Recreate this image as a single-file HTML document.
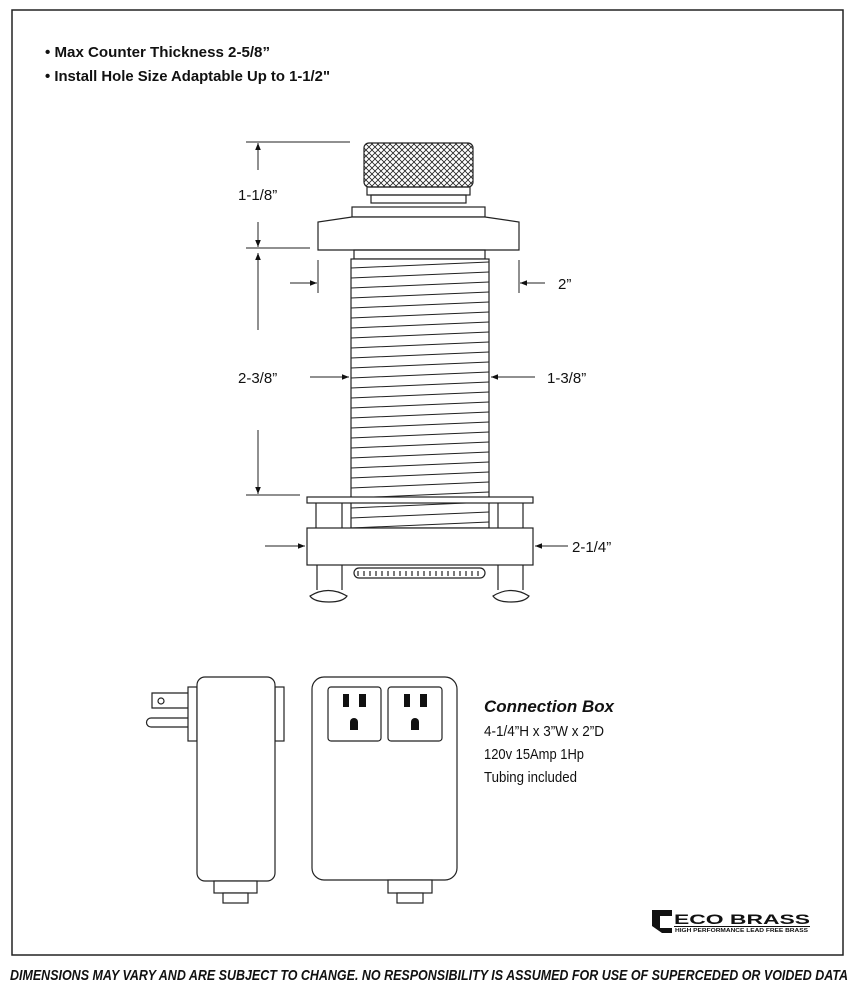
<!DOCTYPE html><html><head><style>body{margin:0;background:#fff}svg{display:block}</style></head><body>
<svg width="856" height="997" viewBox="0 0 856 997" xmlns="http://www.w3.org/2000/svg" font-family="Liberation Sans, sans-serif">
<defs>
<pattern id="kn" width="6" height="6" patternUnits="userSpaceOnUse"><path d="M0 0L6 6M6 0L0 6" stroke="#222" stroke-width="0.8"/></pattern>
<marker id="ar" viewBox="0 0 10 10" refX="10" refY="5" markerWidth="7" markerHeight="7" orient="auto"><path d="M0 1L10 5L0 9z" fill="#111"/></marker>
<clipPath id="bc"><rect x="351" y="259" width="138" height="269"/></clipPath>
</defs>
<rect x="12" y="10" width="831" height="945" fill="none" stroke="#222" stroke-width="1.5"/>
<g font-weight="bold" font-size="15" fill="#111">
<text x="45" y="57" textLength="225" lengthAdjust="spacingAndGlyphs">• Max Counter Thickness 2-5/8”</text>
<text x="45" y="81" textLength="285" lengthAdjust="spacingAndGlyphs">• Install Hole Size Adaptable Up to 1-1/2"</text>
</g>
<g fill="none" stroke="#222" stroke-width="1.2">
<rect x="364" y="143" width="109" height="44" rx="5" fill="url(#kn)"/>
<rect x="367" y="187" width="103" height="8"/>
<rect x="371" y="195" width="95" height="8"/>
<rect x="352" y="207" width="133" height="10"/>
<path d="M318 250V222L352 217H485L519 222V250Z" fill="#fff"/>
<rect x="354" y="250" width="131" height="9"/>
<rect x="351" y="259" width="138" height="269" fill="#fff"/>
<g clip-path="url(#bc)" stroke-width="1">
<path d="M351 268L489 262M351 278L489 272M351 288L489 282M351 298L489 292M351 308L489 302M351 318L489 312M351 328L489 322M351 338L489 332M351 348L489 342M351 358L489 352M351 368L489 362M351 378L489 372M351 388L489 382M351 398L489 392M351 408L489 402M351 418L489 412M351 428L489 422M351 438L489 432M351 448L489 442M351 458L489 452M351 468L489 462M351 478L489 472M351 488L489 482M351 498L489 492M351 508L489 502M351 518L489 512M351 528L489 522"/>
</g>
<rect x="307" y="497" width="226" height="6" fill="#fff"/>
<path d="M316 503V528M342 503V528M498 503V528M523 503V528"/>
<rect x="307" y="528" width="226" height="37" fill="#fff"/>
<rect x="354" y="568" width="131" height="10" rx="5"/>
<path d="M358 571v5M364 571v5M370 571v5M376 571v5M382 571v5M388 571v5M394 571v5M400 571v5M406 571v5M412 571v5M418 571v5M424 571v5M430 571v5M436 571v5M442 571v5M448 571v5M454 571v5M460 571v5M466 571v5M472 571v5M478 571v5"/>
<path d="M317 565V590M342 565V590M498 565V590M523 565V590"/>
<path d="M310 596Q328 585 347 596Q343 602 329 602Q314 602 310 596Z"/>
<path d="M493 596Q511 585 529 596Q525 602 511 602Q497 602 493 596Z"/>
</g>
<g stroke="#222" stroke-width="1" fill="none">
<path d="M246 142H350M246 248H310M246 495H300M318 260V293M519 260V293"/>
</g>
<g stroke="#222" stroke-width="1" fill="none" marker-end="url(#ar)">
<path d="M258 170V143"/><path d="M258 222V247"/><path d="M258 330V253"/><path d="M258 430V494"/>
<path d="M290 283H317"/><path d="M545 283H520"/><path d="M310 377H349"/><path d="M535 377H491"/><path d="M265 546H305"/><path d="M568 546H535"/>
</g>
<g font-size="15" fill="#111">
<text x="238" y="200">1-1/8”</text>
<text x="238" y="383">2-3/8”</text>
<text x="558" y="289">2”</text>
<text x="547" y="383">1-3/8”</text>
<text x="572" y="552">2-1/4”</text>
</g>
<g fill="#fff" stroke="#222" stroke-width="1.2">
<path d="M188 693H152V708H188M188 718H151a4.5 4.5 0 0 0 0 9H188"/>
<circle cx="161" cy="701" r="3"/>
<rect x="188" y="687" width="9" height="54"/>
<rect x="275" y="687" width="9" height="54"/>
<rect x="197" y="677" width="78" height="204" rx="8"/>
<rect x="214" y="881" width="43" height="12"/>
<rect x="223" y="893" width="25" height="10"/>
<rect x="312" y="677" width="145" height="203" rx="12"/>
<rect x="328" y="687" width="53" height="54" rx="3"/>
<rect x="388" y="687" width="54" height="54" rx="3"/>
<rect x="388" y="880" width="44" height="13"/>
<rect x="397" y="893" width="26" height="10"/>
</g>
<g fill="#111">
<rect x="343" y="694" width="6" height="13"/><rect x="359" y="694" width="7" height="13"/>
<path d="M350 730V722a4 4 0 0 1 8 0V730Z"/>
<rect x="404" y="694" width="6" height="13"/><rect x="420" y="694" width="7" height="13"/>
<path d="M411 730V722a4 4 0 0 1 8 0V730Z"/>
</g>
<g fill="#111" font-size="15">
<text x="484" y="712" font-weight="bold" font-style="italic" font-size="17" textLength="130" lengthAdjust="spacingAndGlyphs">Connection Box</text>
<text x="484" y="736" textLength="120" lengthAdjust="spacingAndGlyphs">4-1/4”H x 3”W x 2”D</text>
<text x="484" y="759" textLength="100" lengthAdjust="spacingAndGlyphs">120v 15Amp 1Hp</text>
<text x="484" y="782" textLength="93" lengthAdjust="spacingAndGlyphs">Tubing included</text>
</g>
<path d="M652 910H672V916H660V928H672V933L662 933L652 926Z" fill="#111"/>
<text x="674" y="924" font-size="14" font-weight="bold" fill="#111" textLength="136" lengthAdjust="spacingAndGlyphs">ECO BRASS</text>
<rect x="674" y="926" width="136" height="1" fill="#111"/>
<text x="675" y="932" font-size="5" font-weight="bold" fill="#111" textLength="133" lengthAdjust="spacingAndGlyphs">HIGH PERFORMANCE LEAD FREE BRASS</text>
<text x="10" y="980" font-size="15" font-weight="bold" font-style="italic" fill="#111" textLength="838" lengthAdjust="spacingAndGlyphs">DIMENSIONS MAY VARY AND ARE SUBJECT TO CHANGE. NO RESPONSIBILITY IS ASSUMED FOR USE OF SUPERCEDED OR VOIDED DATA</text>
</svg>
</body></html>
